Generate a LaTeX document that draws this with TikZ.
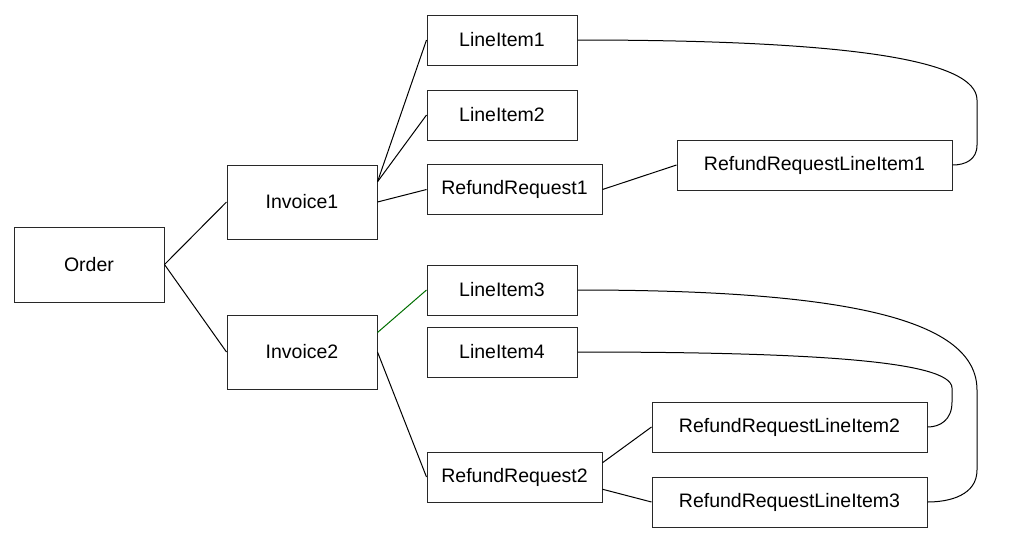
\documentclass[tikz,border=0pt]{standalone}
\usepackage{fontspec}
\setmainfont{Liberation Sans}
\usetikzlibrary{calc}
\definecolor{boxline}{RGB}{40,40,40}
\definecolor{greenline}{RGB}{0,110,0}
\tikzset{
  box/.style={draw=boxline, line width=1pt, fill=white, rectangle, inner sep=0pt,
    font=\fontsize{19.5}{23}\selectfont},
  small/.style={box, minimum width=150pt, minimum height=50pt},
  big/.style={box, minimum width=150pt, minimum height=74pt},
  mid/.style={box, minimum width=175pt, minimum height=50pt},
  wide/.style={box, minimum width=275pt, minimum height=50pt},
  link/.style={draw=black, line width=1pt},
  glink/.style={draw=greenline, line width=1pt}
}
\begin{document}
\begin{tikzpicture}[x=1pt,y=-1pt]
\useasboundingbox (0,0) rectangle (1025,555);
\node[box, minimum width=150pt, minimum height=75pt] (order) at (89,264.5) {Order};
\node[big] (inv1) at (302,202) {Invoice1};
\node[big] (inv2) at (302,352) {Invoice2};
\node[small] (li1) at (502,40) {LineItem1};
\node[small] (li2) at (502,115) {LineItem2};
\node[mid] (rr1) at (514.5,189.5) {RefundRequest1};
\node[wide] (rrli1) at (814.5,165) {RefundRequestLineItem1};
\node[small] (li3) at (502,290) {LineItem3};
\node[small] (li4) at (502,352) {LineItem4};
\node[wide] (rrli2) at (789.5,427) {RefundRequestLineItem2};
\node[mid] (rr2) at (514.5,477) {RefundRequest2};
\node[wide] (rrli3) at (789.5,502) {RefundRequestLineItem3};

\coordinate (i1a) at ($(inv1.north east)!0.23!(inv1.south east)$);
\coordinate (i2a) at ($(inv2.north east)!0.24!(inv2.south east)$);
\coordinate (r2a) at ($(rr2.north east)!0.22!(rr2.south east)$);
\coordinate (r2b) at ($(rr2.north east)!0.74!(rr2.south east)$);

\draw[link] (order.east) -- (inv1.west);
\draw[link] (order.east) -- (inv2.west);
\draw[link] (i1a) -- (li1.west);
\draw[link] (i1a) -- (li2.west);
\draw[link] (inv1.east) -- (rr1.west);
\draw[link] (rr1.east) -- (rrli1.west);
\draw[glink] (i2a) -- (li3.west);
\draw[link] (inv2.east) -- (rr2.west);
\draw[link] (r2a) -- (rrli2.west);
\draw[link] (r2b) -- (rrli3.west);

\draw[link] (li1.east) .. controls (850,40) and (977,60) .. (977,100)
  -- (977,145) .. controls (977,160) and (965,165) .. (rrli1.east);
\draw[link] (li3.east) .. controls (850,290) and (977,320) .. (977,390)
  -- (977,470) .. controls (977,495) and (950,502) .. (rrli3.east);
\draw[link] (li4.east) .. controls (800,352) and (952,360) .. (952,388)
  -- (952,402) .. controls (952,420) and (940,427) .. (rrli2.east);
\end{tikzpicture}
\end{document}
